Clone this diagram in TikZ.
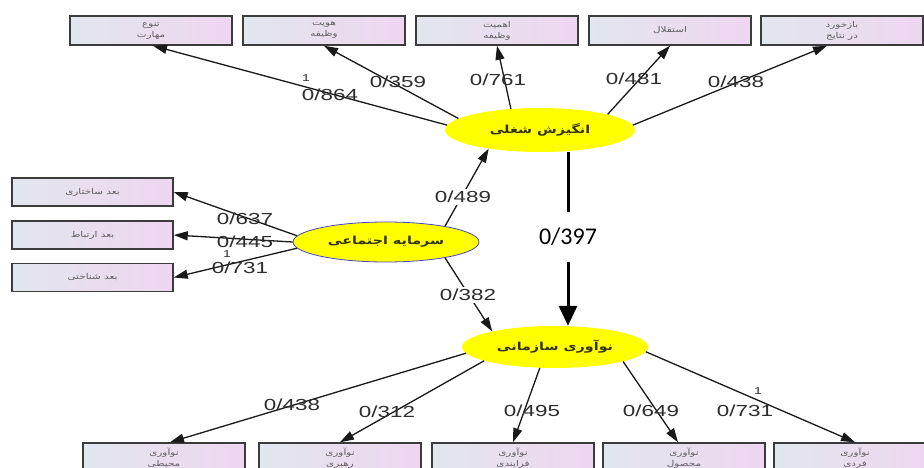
\documentclass[tikz,border=0pt]{standalone}
\usepackage{fontspec}
\usetikzlibrary{shapes.geometric,arrows.meta}
\TeXXeTstate=1
\newfontfamily\arabicfont[Script=Arabic,FakeStretch=1.3]{DejaVu Sans}
\newfontfamily\numfont[FakeStretch=1.4]{Liberation Sans}
\newfontfamily\bignumfont{Carlito}
\newcommand{\fa}[1]{{\arabicfont\beginR #1\endR}}

\definecolor{boxleft}{RGB}{226,230,238}
\definecolor{boxright}{RGB}{238,214,240}
\definecolor{boxedge}{RGB}{60,60,60}
\definecolor{linecol}{RGB}{25,25,25}
\definecolor{lblcol}{RGB}{45,45,45}
\definecolor{boxtext}{RGB}{95,95,95}
\definecolor{ovaltext}{RGB}{50,50,15}
\definecolor{ovalfill}{RGB}{255,255,0}
\definecolor{ovaledge}{RGB}{70,70,200}

\tikzset{
  dimbox/.style={rectangle, draw=boxedge, line width=1.5pt,
    left color=boxleft, right color=boxright,
    minimum width=162pt, minimum height=29pt, inner sep=1pt,
    align=center, text=boxtext, font=\fontsize{8}{11}\selectfont},
  sidebox/.style={dimbox, minimum width=161pt, minimum height=28pt},
  lowbox/.style={dimbox, minimum height=30pt},
  oval/.style={ellipse, fill=ovalfill, inner sep=0pt, text=ovaltext,
    font=\bfseries\fontsize{11}{12}\selectfont},
  conn/.style={draw=linecol, line width=1.3pt, -{Triangle[length=14pt,width=9pt]}},
  lbl/.style={text=lblcol, font=\numfont\fontsize{16}{18}\selectfont, inner sep=1pt},
  gaplbl/.style={lbl, fill=white, inner sep=2pt},
  onelbl/.style={text=lblcol, font=\numfont\fontsize{10}{12}\selectfont, inner sep=0pt},
  heavy/.style={draw=black, line width=3pt}
}

\begin{document}
\begin{tikzpicture}[x=1pt,y=-1pt]
\useasboundingbox (0,0) rectangle (924,468);
\clip (0,0) rectangle (924,468);
\fill[white] (0,0) rectangle (924,468);

% job characteristics (top row)
\node[dimbox] (t1) at (151,30.5) {\fa{تنوع}\\\fa{مهارت}};
\node[dimbox] (t2) at (324,30.5) {\fa{هویت}\\\fa{وظیفه}};
\node[dimbox] (t3) at (497,30.5) {\fa{اهمیت}\\\fa{وظیفه}};
\node[dimbox] (t4) at (670,30.5) {\fa{استقلال}};
\node[dimbox] (t5) at (842,30.5) {\fa{بازخورد}\\\fa{در نتایج}};

% social capital dimensions (left column)
\node[sidebox] (l1) at (92.5,192) {\fa{بعد ساختاری}};
\node[sidebox] (l2) at (92.5,235) {\fa{بعد ارتباط}};
\node[sidebox] (l3) at (92.5,277.5) {\fa{بعد شناختی}};

% innovation dimensions (bottom row)
\node[lowbox] (b1) at (164,458) {\fa{نوآوری}\\\fa{محیطی}};
\node[lowbox] (b2) at (340,458) {\fa{نوآوری}\\\fa{رهبری}};
\node[lowbox] (b3) at (513,458) {\fa{نوآوری}\\\fa{فرایندی}};
\node[lowbox] (b4) at (684,458) {\fa{نوآوری}\\\fa{محصول}};
\node[lowbox] (b5) at (855,458) {\fa{نوآوری}\\\fa{فردی}};

% latent variables
\node[oval, minimum width=190pt, minimum height=44pt] (mot) at (540,130) {\fa{انگیزش شغلی}};
\node[oval, draw=ovaledge, line width=0.8pt, minimum width=186pt, minimum height=40pt] (soc) at (386,242) {\fa{سرمایه اجتماعی}};
\node[oval, minimum width=186pt, minimum height=42pt] (inn) at (555,347) {\fa{نوآوری سازمانی}};

% loadings of job motivation
\draw[conn] (mot.177) -- ([xshift=2pt]t1.south);
\draw[conn] (mot.172) -- (t2.south);
\draw[conn] (mot.144) -- (t3.south);
\draw[conn] (mot.13) -- (t4.south);
\draw[conn] (mot.3) -- ([xshift=-15pt]t5.south);
\node[onelbl] (o1) at (306,78) {1};
\node[lbl] (k1) at (330,95) {0/864};
\node[lbl] (k2) at (398,82) {0/359};
\node[lbl] (k3) at (498,80) {0/761};
\node[lbl] (k4) at (634,79) {0/481};
\node[lbl] (k5) at (736,82) {0/438};

% loadings of social capital
\draw[conn] (soc.176) -- (l1.east);
\draw[conn] (soc.180) -- (l2.east);
\draw[conn] (soc.184) -- (l3.east);
\node[lbl] (s1) at (245,219) {0/637};
\node[lbl] (s2) at (245,242) {0/445};
\node[onelbl] (o2) at (227,254) {1};
\node[lbl] (s3) at (240,268) {0/731};

% structural paths
\draw[conn] (soc.15) -- (mot.200);
\node[gaplbl] (p1) at (463,197) {0/489};
\draw[conn] (soc.-15) -- (inn.166);
\node[gaplbl] (p2) at (468,295) {0/382};

\node[inner sep=0pt, minimum height=50pt, font=\bignumfont\fontsize{24}{26}\selectfont] (p3) at (568,237) {0/397};
\draw[heavy] ([xshift=28pt]mot.south) -- (p3.north);
\draw[heavy, -{Triangle[length=20pt,width=18pt]}] (p3.south) -- ([xshift=13pt]inn.north);

% loadings of organizational innovation
\draw[conn] (inn.184) -- ([xshift=6pt]b1.north);
\draw[conn] (inn.191) -- (b2.north);
\draw[conn] (inn.234) -- (b3.north);
\draw[conn] (inn.348) -- ([xshift=-6pt]b4.north);
\draw[conn] (inn.357) -- (b5.north);
\node[lbl] (i1) at (292,405) {0/438};
\node[lbl] (i2) at (387,412) {0/312};
\node[lbl] (i3) at (532,411) {0/495};
\node[lbl] (i4) at (651,411) {0/649};
\node[onelbl] (o3) at (758,391) {1};
\node[lbl] (i5) at (745,411) {0/731};
\end{tikzpicture}
\end{document}
